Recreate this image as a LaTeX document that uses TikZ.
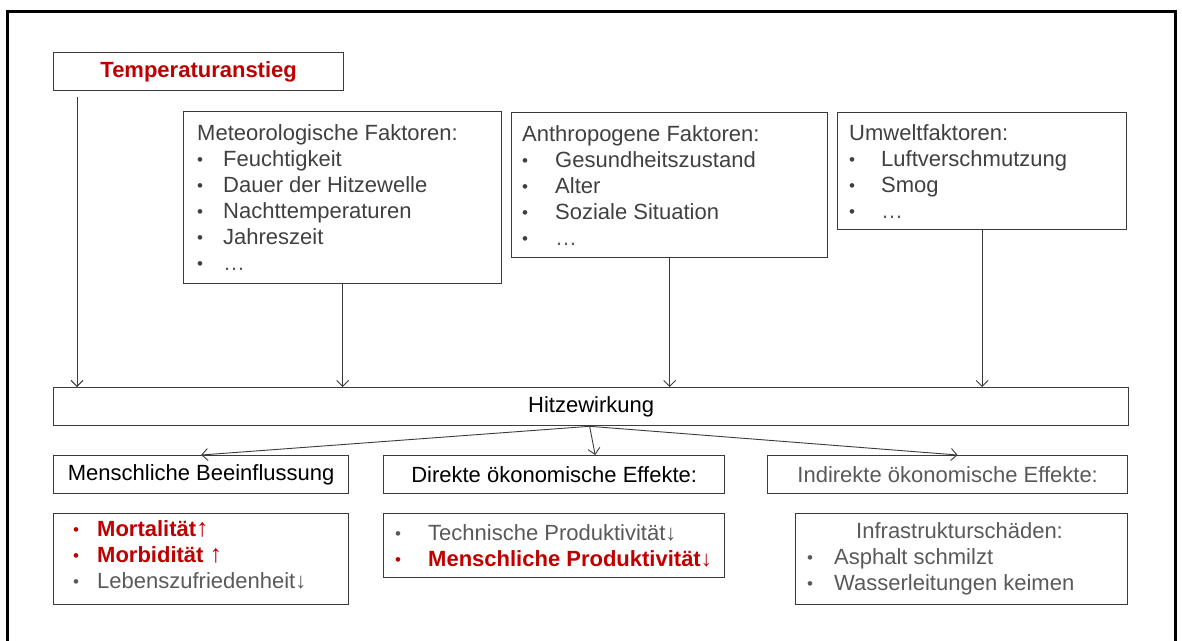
\documentclass[tikz,border=0pt]{standalone}
\usepackage{fontspec}
\setmainfont{Liberation Sans}
\usetikzlibrary{arrows.meta}
\definecolor{dred}{HTML}{C00000}
\definecolor{tgray}{HTML}{404040}
\definecolor{lgray}{HTML}{595959}
\definecolor{bgray}{HTML}{3A3A3A}
\newcommand{\bul}[2]{\makebox[#1][l]{\raisebox{1pt}{\fontsize{17}{17}\selectfont •}}#2}
\newcommand{\lst}[1]{\parbox[c]{320pt}{\fontsize{22}{26}\selectfont\raggedright #1}}
\newcommand{\bigup}{{\fontsize{25}{26}\selectfont\bfseries ↑}}
\begin{document}
\begin{tikzpicture}[x=1pt,y=-1pt,
  box/.style={draw=bgray, line width=1.3pt, inner sep=0pt, anchor=north west},
  arr/.style={draw=bgray, line width=0.9pt, -{Straight Barb[length=6pt,width=12pt]}},
  txt/.style={font=\fontsize{22}{26}\selectfont, inner sep=0pt},
  lsttxt/.style={inner sep=0pt, anchor=west, text=tgray},
]
\useasboundingbox (0,0) rectangle (1182,640);
\draw[line width=3pt] (7,11) rectangle (1175,660);

% top row
\node[box, minimum width=290pt, minimum height=38pt, txt, text=dred, font=\fontsize{22}{26}\selectfont\bfseries] (temp) at (53,52) {Temperaturanstieg};
\node[box, minimum width=318pt, minimum height=172pt] (meteo) at (183,111) {};
\node[box, minimum width=316pt, minimum height=145pt] (anthro) at (511,112) {};
\node[box, minimum width=289pt, minimum height=117pt] (umwelt) at (837,112) {};

\node[lsttxt] (meteot) at ([xshift=14pt]meteo.west) {\lst{Meteorologische Faktoren:\\
\bul{26pt}{Feuchtigkeit}\\
\bul{26pt}{Dauer der Hitzewelle}\\
\bul{26pt}{Nachttemperaturen}\\
\bul{26pt}{Jahreszeit}\\
\bul{26pt}{\textcolor{lgray}{…}}}};
\node[lsttxt] (anthrot) at ([xshift=11pt]anthro.west) {\lst{Anthropogene Faktoren:\\
\bul{33pt}{Gesundheitszustand}\\
\bul{33pt}{Alter}\\
\bul{33pt}{Soziale Situation}\\
\bul{33pt}{\textcolor{lgray}{…}}}};
\node[lsttxt] (umweltt) at ([xshift=12pt]umwelt.west) {\lst{Umweltfaktoren:\\
\bul{32pt}{Luftverschmutzung}\\
\bul{32pt}{Smog}\\
\bul{32pt}{\textcolor{lgray}{…}}}};

% middle
\node[box, minimum width=1075pt, minimum height=38pt, txt, text=black] (hitze) at (53,387) {Hitzewirkung};
\node[box, minimum width=295pt, minimum height=38pt, txt, text=black] (mensch) at (53,455) {Menschliche Beeinflussung};
\node[box, minimum width=341pt, minimum height=38pt, txt, text=black] (direkt) at (383,455) {Direkte ökonomische Effekte:};
\node[box, minimum width=360pt, minimum height=38pt, txt, text=lgray] (indirekt) at (767,455) {Indirekte ökonomische Effekte:};

% bottom
\node[box, minimum width=295pt, minimum height=91pt] (mort) at (53,513) {};
\node[box, minimum width=341pt, minimum height=64pt] (tech) at (383,513) {};
\node[box, minimum width=332pt, minimum height=91pt] (infra) at (795,513) {};

\node[lsttxt] (mortt) at ([xshift=20pt,yshift=4pt]mort.west) {\lst{%
\textcolor{dred}{\bul{24pt}{\textbf{Mortalität}\bigup}}\\
\textcolor{dred}{\bul{24pt}{\textbf{Morbidität }\bigup}}\\
\textcolor{lgray}{\bul{24pt}{Lebenszufriedenheit↓}}}};
\node[lsttxt] (techt) at ([xshift=12pt]tech.west) {\lst{%
\textcolor{lgray}{\bul{33pt}{Technische Produktivität↓}}\\
\textcolor{dred}{\bul{33pt}{\textbf{Menschliche Produktivität↓}}}}};
\node[lsttxt] (infrat) at ([xshift=12pt]infra.west) {\lst{%
\textcolor{lgray}{\hspace*{49pt}Infrastrukturschäden:}\\
\textcolor{lgray}{\bul{27pt}{Asphalt schmilzt}}\\
\textcolor{lgray}{\bul{27pt}{Wasserleitungen keimen}}}};

% connectors
\coordinate (t1) at ([xshift=24pt,yshift=-6pt]temp.south west);
\draw[arr] (t1) -- (t1 |- hitze.north);
\draw[arr] (meteo.south) -- (meteo.south |- hitze.north);
\draw[arr] (anthro.south) -- (anthro.south |- hitze.north);
\draw[arr] (umwelt.south) -- (umwelt.south |- hitze.north);
\coordinate (hs) at ([xshift=-1.5pt]hitze.south);
\draw[arr] (hs) -- (mensch.north);
\draw[arr] (hs) -- ([xshift=41pt]direkt.north);
\draw[arr] (hs) -- ([xshift=10pt]indirekt.north);
\end{tikzpicture}
\end{document}
